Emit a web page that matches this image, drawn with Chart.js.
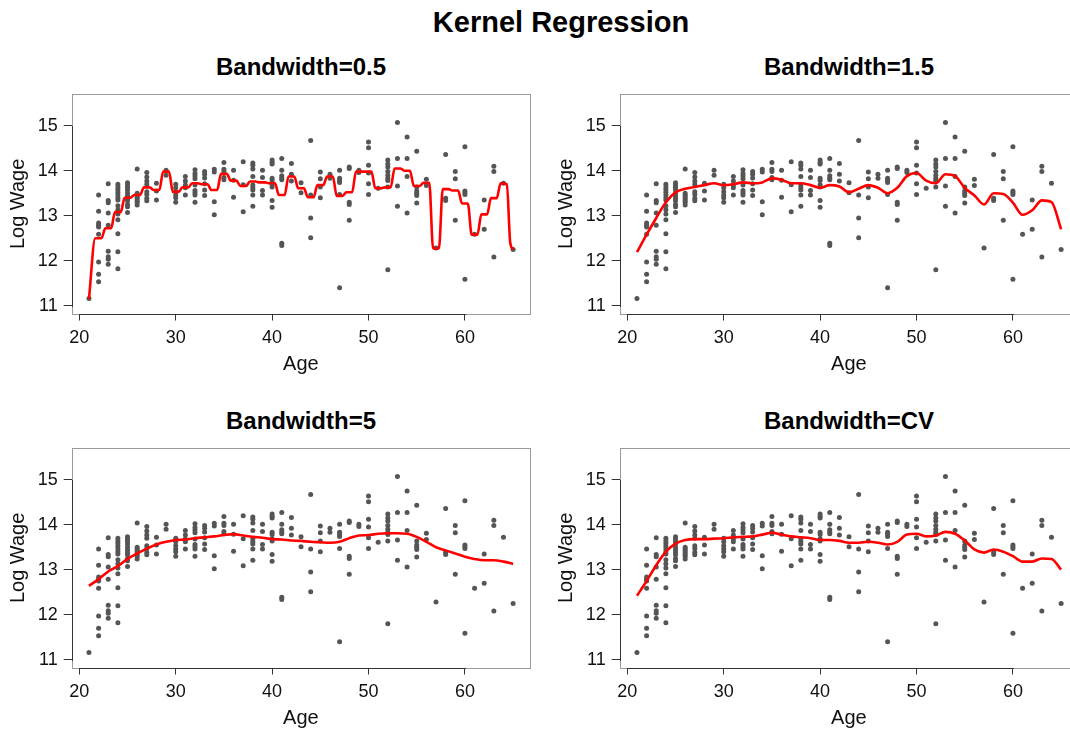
<!DOCTYPE html>
<html><head><meta charset="utf-8">
<script src="https://cdn.jsdelivr.net/npm/chart.js@4.4.1/dist/chart.umd.min.js"></script>
<style>
html,body{margin:0;padding:0;width:1070px;height:731px;overflow:hidden;background:#fff;font-family:"Liberation Sans",Arial,Helvetica,sans-serif;color:#000;}
#mainTitle{position:absolute;left:0;top:5px;width:1122px;text-align:center;font-weight:bold;font-size:29px;line-height:34px;}
.ptitle{position:absolute;width:458px;text-align:center;font-weight:bold;font-size:24px;line-height:28px;}
canvas{position:absolute;}
</style></head>
<body>
<div id="mainTitle">Kernel Regression</div>
<div class="ptitle" id="t1" style="left:72px;top:53px">Bandwidth=0.5</div>
<div class="ptitle" id="t2" style="left:620px;top:53px">Bandwidth=1.5</div>
<div class="ptitle" id="t3" style="left:72px;top:407px">Bandwidth=5</div>
<div class="ptitle" id="t4" style="left:620px;top:407px">Bandwidth=CV</div>
<canvas id="c1" width="545" height="300" style="left:0px;top:80px"></canvas>
<canvas id="c2" width="545" height="300" style="left:548px;top:80px"></canvas>
<canvas id="c3" width="545" height="300" style="left:0px;top:434px"></canvas>
<canvas id="c4" width="545" height="300" style="left:548px;top:434px"></canvas>
<script>
// ---- data ----
const ages = [
21,
22,22,22,22,22,22,22,22,22,
23,23,23,23,23,23,23,23,23,
24,24,24,24,24,24,24,24,24,24,24,24,24,24,
25,25,25,25,25,25,25,25,25,25,25,
26,26,26,26,26,26,26,26,
27,27,27,27,27,27,27,27,
28,28,28,
29,29,
30,30,30,30,30,30,
31,31,31,31,31,
32,32,32,32,32,32,32,32,32,
33,33,33,33,33,33,
34,34,34,34,
35,35,35,35,35,
36,36,36,
37,37,37,
38,38,38,38,38,38,38,38,38,
39,39,39,39,
40,40,40,40,40,40,40,40,40,
41,41,41,41,41,41,41,
42,42,42,
43,43,
44,44,44,44,
45,45,45,45,
46,46,
47,47,47,47,47,47,
48,48,48,48,48,
49,49,
50,50,50,50,50,50,
51,
52,52,52,52,52,52,52,52,52,
53,53,53,53,
54,54,54,54,
55,55,55,55,55,55,
56,56,
57,
58,58,58,
59,59,59,
60,60,60,60,60,
61,
62,62,
63,63,63,
64,
65];
const logWage = [
11.16,
13.46,13.10,12.84,12.79,12.75,12.59,11.97,11.70,11.53,
13.71,13.34,13.29,13.06,12.79,12.21,12.09,12.03,11.92,
13.70,13.64,13.58,13.52,13.46,13.40,13.35,13.22,13.13,13.04,12.91,12.60,12.20,11.82,
13.73,13.68,13.63,13.57,13.50,13.44,13.38,13.33,13.25,13.20,13.07,
14.04,13.50,13.46,13.42,13.38,13.34,13.30,13.24,
13.96,13.86,13.77,13.70,13.53,13.47,13.39,13.33,
13.72,13.55,13.35,
14.01,13.90,
13.70,13.62,13.53,13.46,13.40,13.30,
13.87,13.77,13.68,13.62,13.46,
14.02,13.94,13.88,13.82,13.68,13.56,13.51,13.46,13.30,
13.98,13.92,13.84,13.71,13.57,13.45,
14.03,13.97,13.31,13.02,
14.18,14.03,13.98,13.85,13.80,
14.01,13.79,13.41,
14.20,13.69,13.09,
14.17,14.12,14.04,13.87,13.68,13.62,13.57,13.46,13.21,
14.01,13.85,13.56,13.46,
14.24,14.19,14.15,13.83,13.78,13.69,13.64,13.34,13.19,
14.27,14.01,13.89,13.84,13.80,12.39,12.34,
14.16,13.92,13.77,
13.73,13.51,
14.67,13.46,12.95,12.51,
13.97,13.82,13.64,13.40,
13.92,13.83,
14.01,13.83,13.78,13.74,13.47,11.40,
14.08,14.05,13.30,13.25,12.90,
14.01,13.96,
14.64,14.51,14.12,13.95,13.71,13.47,
13.61,
14.24,14.15,14.08,13.98,13.90,13.83,13.78,13.64,11.80,
15.07,14.27,13.66,13.21,
14.75,14.27,13.87,13.06,
14.43,13.64,13.55,13.50,13.45,13.28,
13.81,13.67,
12.28,
14.36,13.39,13.34,
13.98,13.82,12.90,
14.53,13.55,13.51,13.47,11.59,
12.59,
13.35,12.70,
14.10,13.98,12.08,
13.72,
12.25];

const xTicks = [20,30,40,50,60];
const yTicks = [11,12,13,14,15];

// Bandwidth = 0.5 curve
const fit05Age = [21.0,21.65,22.3,
22.7,23.3,23.7,24.3,24.7,25.3,25.7,26.3,26.7,27.3,27.7,28.3,28.7,29.3,29.7,30.3,
30.7,31.3,31.7,32.3,32.7,33.3,33.7,34.3,34.7,35.3,35.7,36.3,36.7,37.3,37.7,38.3,
38.7,39.3,39.7,40.3,40.7,41.3,41.7,42.3,42.7,43.3,43.7,44.3,44.7,45.3,45.7,46.3,
46.7,47.3,47.7,48.3,48.7,49.3,49.7,50.3,50.7,51.3,51.7,52.3,52.7,53.3,53.7,54.3,
54.7,55.3,55.7,56.3,56.7,57.3,57.7,58.3,58.7,59.3,59.7,60.3,60.7,61.3,61.7,62.3,
62.7,63.3,63.7,64.35,64.7,65.0];
const fit05 = [11.15,12.50,12.50,
12.72,12.72,13.08,13.08,13.40,13.40,13.46,13.46,13.63,13.63,13.57,13.57,13.98,13.98,13.53,13.53,
13.63,13.63,13.72,13.72,13.70,13.70,13.57,13.57,13.93,13.93,13.78,13.78,13.66,13.66,13.76,13.76,
13.74,13.74,13.72,13.72,13.46,13.46,13.87,13.87,13.61,13.61,13.41,13.41,13.68,13.68,13.87,13.87,
13.44,13.44,13.52,13.52,13.98,13.98,13.98,13.98,13.61,13.61,13.63,13.63,14.05,14.05,14.00,14.00,
13.66,13.66,13.73,13.73,12.27,12.27,13.59,13.59,13.56,13.56,13.27,13.27,12.58,12.58,13.03,13.03,
13.39,13.39,13.72,13.70,12.40,12.25];

// smoother curves, read at each age
const fitAge = [21,22,23,24,25,26,27,28,29,30,31,32,33,34,35,36,37,38,39,40,41,42,43,
44,45,46,47,48,49,50,51,52,53,54,55,56,57,58,59,60,61,62,63,64,65];
const fit15 = [12.19,12.58,12.95,13.30,13.52,13.60,13.64,13.68,13.72,13.68,13.70,13.74,13.72,
13.74,13.83,13.80,13.72,13.72,13.68,13.62,13.68,13.65,13.52,13.60,13.68,13.62,13.50,13.62,
13.88,13.95,13.78,13.72,13.92,13.88,13.62,13.45,13.25,13.50,13.48,13.29,13.02,13.12,13.34,
13.30,12.70];
const fit5 = [12.64,12.79,12.96,13.08,13.24,13.36,13.47,13.56,13.62,13.66,13.67,13.70,13.72,
13.74,13.77,13.79,13.76,13.73,13.71,13.68,13.67,13.65,13.64,13.62,13.61,13.60,13.62,13.70,
13.76,13.77,13.80,13.81,13.81,13.80,13.73,13.62,13.50,13.43,13.36,13.29,13.24,13.21,13.21,
13.18,13.13];
const fitCV = [12.42,12.75,13.10,13.40,13.58,13.66,13.68,13.68,13.69,13.70,13.72,13.73,13.74,
13.78,13.82,13.78,13.74,13.72,13.70,13.66,13.66,13.64,13.60,13.60,13.62,13.60,13.56,13.62,
13.78,13.80,13.74,13.76,13.84,13.80,13.65,13.45,13.38,13.45,13.40,13.30,13.18,13.18,13.25,
13.24,13.00];

// ---- drawing ----
const FONT = '"Liberation Sans", Arial, Helvetica, sans-serif';

const boxPlugin = {
  id: 'rbox',
  beforeDatasetsDraw(chart) {
    const {ctx, chartArea: a, scales: {x, y}} = chart;
    const L = Math.round(a.left) + 0.5, R = Math.round(a.right) + 0.5;
    const T = Math.round(a.top) + 0.5, B = Math.round(a.bottom) + 0.5;
    ctx.save();
    ctx.lineWidth = 1;
    ctx.strokeStyle = '#9a9a9a';
    ctx.strokeRect(L, T, R - L, B - T);
    ctx.strokeStyle = '#333';
    ctx.beginPath();
    ctx.moveTo(Math.round(x.getPixelForValue(xTicks[0])), B);
    ctx.lineTo(Math.round(x.getPixelForValue(xTicks[xTicks.length - 1])) + 1, B);
    ctx.moveTo(L, Math.round(y.getPixelForValue(yTicks[0])) + 1);
    ctx.lineTo(L, Math.round(y.getPixelForValue(yTicks[yTicks.length - 1])));
    ctx.stroke();
    ctx.restore();
  }
};

function makeChart(id, fx, fy) {
  const pts = ages.map((a, i) => ({x: a, y: logWage[i]}));
  const line = fx.map((a, i) => ({x: a, y: fy[i]}));
  return new Chart(document.getElementById(id), {
    type: 'scatter',
    data: {datasets: [
      {data: line, showLine: true, borderColor: '#ff0000', borderWidth: 2.6, pointRadius: 0,
       cubicInterpolationMode: 'monotone', fill: false, order: 0},
      {data: pts, pointRadius: 2.5, pointBackgroundColor: '#555555', pointBorderWidth: 0,
       borderWidth: 0, order: 1}
    ]},
    options: {
      responsive: false, animation: false, devicePixelRatio: 1,
      layout: {padding: {left: 0, top: 14.3, right: 15, bottom: 0}},
      plugins: {legend: {display: false}, tooltip: {enabled: false}},
      scales: {
        x: {
          type: 'linear', min: 19.21, max: 66.75,
          afterFit: s => { s.height = 66.5; s.paddingLeft = 0; s.paddingRight = 0; },
          afterBuildTicks: s => { s.ticks = xTicks.map(v => ({value: v})); },
          grid: {drawOnChartArea: false, drawTicks: true, tickLength: 7, color: '#333'},
          border: {display: false},
          ticks: {padding: 7, color: '#111', font: {size: 18, family: FONT}, maxRotation: 0},
          title: {display: true, text: 'Age', color: '#111', font: {size: 20, family: FONT},
                  padding: {top: 0, bottom: 4}}
        },
        y: {
          type: 'linear', min: 10.827, max: 15.698,
          afterFit: s => { s.width = 71.7; s.paddingTop = 0; s.paddingBottom = 0; },
          afterBuildTicks: s => { s.ticks = yTicks.map(v => ({value: v})); },
          grid: {drawOnChartArea: false, drawTicks: true, tickLength: 8, color: '#333'},
          border: {display: false},
          ticks: {padding: 6, color: '#111', font: {size: 18, family: FONT}},
          title: {display: true, text: 'Log Wage', color: '#111', font: {size: 20, family: FONT},
                  padding: {top: 6, bottom: 0}}
        }
      }
    },
    plugins: [boxPlugin]
  });
}

makeChart('c1', fit05Age, fit05);
makeChart('c2', fitAge, fit15);
makeChart('c3', fitAge, fit5);
makeChart('c4', fitAge, fitCV);
</script>
</body></html>
